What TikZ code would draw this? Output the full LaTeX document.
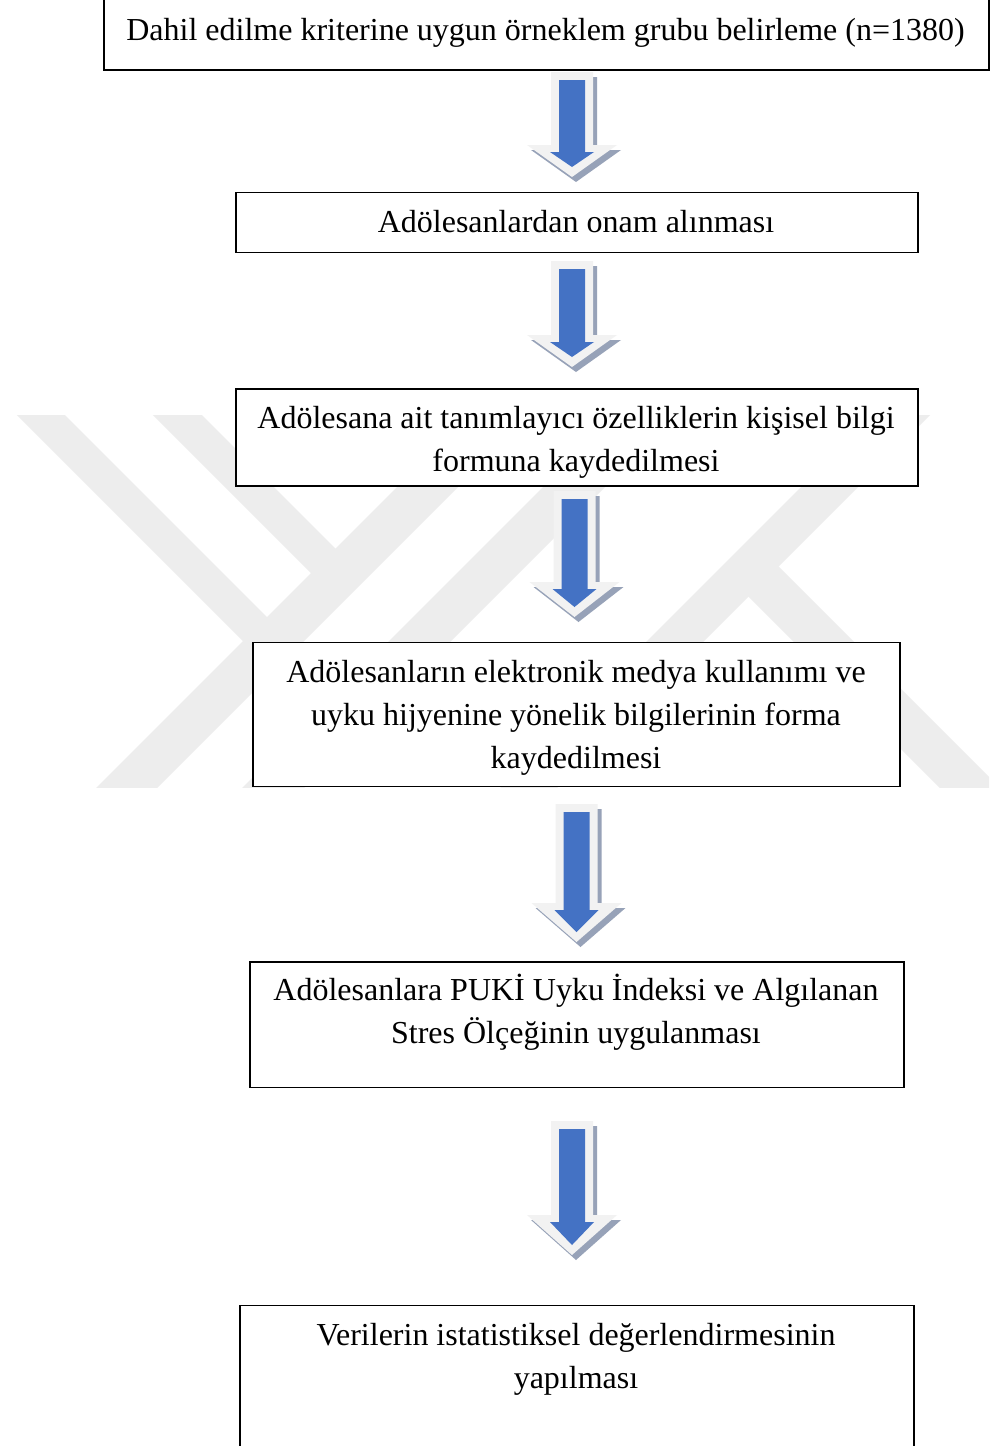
\documentclass[tikz,border=0pt]{standalone}
\usepackage{fontspec}
\setmainfont{Liberation Serif}
\definecolor{arrblue}{HTML}{4472C4}
\definecolor{arrlight}{HTML}{F2F2F2}
\definecolor{arrshadow}{HTML}{97A2B8}
\definecolor{wmark}{HTML}{EDEDED}
\tikzset{
  box/.style={draw=black, line width=1.8pt, fill=white, inner sep=0pt, anchor=north west},
  txt/.style={font=\fontsize{32}{43}\selectfont, align=center, inner sep=0pt, anchor=north},
  wm/.style={fill=wmark},
}
% block arrow: centre x, top, head base, tip (pixel coordinates)
\newcommand{\blockarrow}[4]{%
  \fill[arrshadow] ({#1-17},{#2+5}) -- ({#1+25},{#2+5}) -- ({#1+25},{#3+5}) -- ({#1+49},{#3+5})
     -- ({#1+4},{#4+5}) -- ({#1-41},{#3+5}) -- ({#1-17},{#3+5}) -- cycle;
  \fill[arrlight] ({#1-21},{#2}) -- ({#1+21},{#2}) -- ({#1+21},{#3}) -- ({#1+45},{#3})
     -- ({#1},{#4}) -- ({#1-45},{#3}) -- ({#1-21},{#3}) -- cycle;
  \fill[arrblue] ({#1-13},{#2+8}) -- ({#1+13},{#2+8}) -- ({#1+13},{#3+7}) -- ({#1+22},{#3+7})
     -- ({#1},{#4-10}) -- ({#1-22},{#3+7}) -- ({#1-13},{#3+7}) -- cycle;
}
\begin{document}
\begin{tikzpicture}[x=1pt,y=-1pt]
\useasboundingbox (0,0) rectangle (989,1446);
\fill[white] (0,0) rectangle (989,1446);
% watermark
\begin{scope}
  \clip (0,415) rectangle (989,787);
  \fill[wm] (504,380) -- (565,380) -- (125,820) -- (64,820) -- cycle;
  \fill[wm] (-18,380) -- (30,380) -- (275,625) -- (251,649) -- cycle;
  \fill[wm] (118,380) -- (167,380) -- (343.5,556.5) -- (319,581) -- cycle;
  \fill[wm] (650,380) -- (712,380) -- (272,820) -- (210,820) -- cycle;
  \fill[wm] (908,380) -- (965,380) -- (525,820) -- (468,820) -- cycle;
  \fill[wm] (741,589) -- (771,559) -- (1032,820) -- (972,820) -- cycle;
\end{scope}
% boxes
\node[box, minimum width=885pt, minimum height=72pt] (b1) at (103,-3) {};
\node[box, minimum width=682pt, minimum height=60pt] (b2) at (235,191.5) {};
\node[box, minimum width=682pt, minimum height=97pt] (b3) at (235,388) {};
\node[box, minimum width=647pt, minimum height=144pt] (b4) at (252,641.5) {};
\node[box, minimum width=654pt, minimum height=125.5pt] (b5) at (249,961) {};
\node[box, minimum width=674pt, minimum height=150pt] (b6) at (239,1304.5) {};
% texts
\node[txt] (t1) at (545.5,10) {\rule{0pt}{30pt}Dahil edilme kriterine uygun örneklem grubu belirleme (n=1380)};
\node[txt] (t2) at (576,202) {\rule{0pt}{30pt}Adölesanlardan onam alınması};
\node[txt] (t3) at (576,398) {\rule{0pt}{30pt}Adölesana ait tanımlayıcı özelliklerin kişisel bilgi\\formuna kaydedilmesi};
\node[txt] (t4) at (576,652) {\rule{0pt}{30pt}Adölesanların elektronik medya kullanımı ve\\uyku hijyenine yönelik bilgilerinin forma\\kaydedilmesi};
\node[txt] (t5) at (576,970) {\rule{0pt}{30pt}Adölesanlara PUKİ Uyku İndeksi ve Algılanan\\Stres Ölçeğinin uygulanması};
\node[txt] (t6) at (576,1315) {\rule{0pt}{30pt}Verilerin istatistiksel değerlendirmesinin\\yapılması};
% arrows
\blockarrow{572}{72}{145}{177}
\blockarrow{572}{261}{335}{367}
\blockarrow{574.5}{491}{582}{617}
\blockarrow{576.5}{804}{903}{942}
\blockarrow{572}{1121}{1215}{1255}
\end{tikzpicture}
\end{document}
